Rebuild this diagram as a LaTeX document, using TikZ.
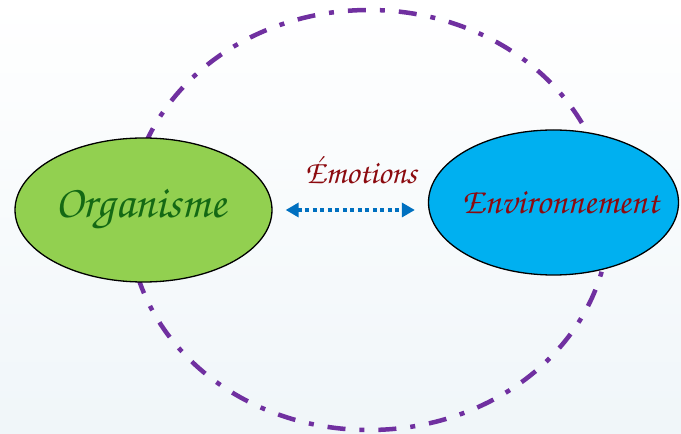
\documentclass[tikz,border=0pt]{standalone}
\usepackage[T1,TU]{fontenc}
\usetikzlibrary{arrows.meta,shapes.geometric}

\definecolor{leafgreen}{RGB}{146,208,80}
\definecolor{skyblue}{RGB}{0,176,240}
\definecolor{darkleaf}{RGB}{20,105,20}
\definecolor{winered}{RGB}{140,10,15}
\definecolor{linkblue}{RGB}{0,112,192}
\definecolor{cyclepurple}{RGB}{112,48,160}
\definecolor{paleback}{RGB}{240,246,249}

\newcommand{\chancery}{\fontencoding{T1}\fontfamily{pzc}\fontseries{mb}\fontshape{it}\selectfont}

\tikzset{
  blob/.style={ellipse,draw=black,line width=1.3pt,inner sep=0pt},
  cycle line/.style={cyclepurple,line width=4.5pt,
    dash pattern=on 18pt off 14pt on 5pt off 14pt},
  link/.style={linkblue,line width=3.5pt,dash pattern=on 4pt off 3.5pt,
    {Triangle[length=13pt,width=14pt]}-{Triangle[length=13pt,width=14pt]}}
}

\begin{document}
\begin{tikzpicture}[x=1pt,y=1pt]

\shade[top color=white,bottom color=paleback] (0,0) rectangle (681,434);
\useasboundingbox (0,0) rectangle (681,434);

\draw[cycle line] (369,214) ellipse [x radius=240,y radius=210];

\node[blob,fill=leafgreen,minimum width=257pt,minimum height=144pt]
  (org) at (143.5,224) {};
\node[blob,fill=skyblue,minimum width=250pt,minimum height=145pt]
  (env) at (553.5,231.5) {};

\node[text=darkleaf,font=\chancery\fontsize{46}{50}\selectfont]
  (orgtxt) at ([xshift=-3pt]org.center) {Organisme};
\node[text=winered,font=\chancery\fontsize{36}{40}\selectfont]
  (envtxt) at ([xshift=7pt]env.center) {Environnement};

\draw[link,shorten <=13pt,shorten >=13pt] (org.east) -- (org.east -| env.west);

\node[text=winered,font=\chancery\fontsize{33}{36}\selectfont]
  (emo) at (361,264) {\'{E}motions};

\end{tikzpicture}
\end{document}
